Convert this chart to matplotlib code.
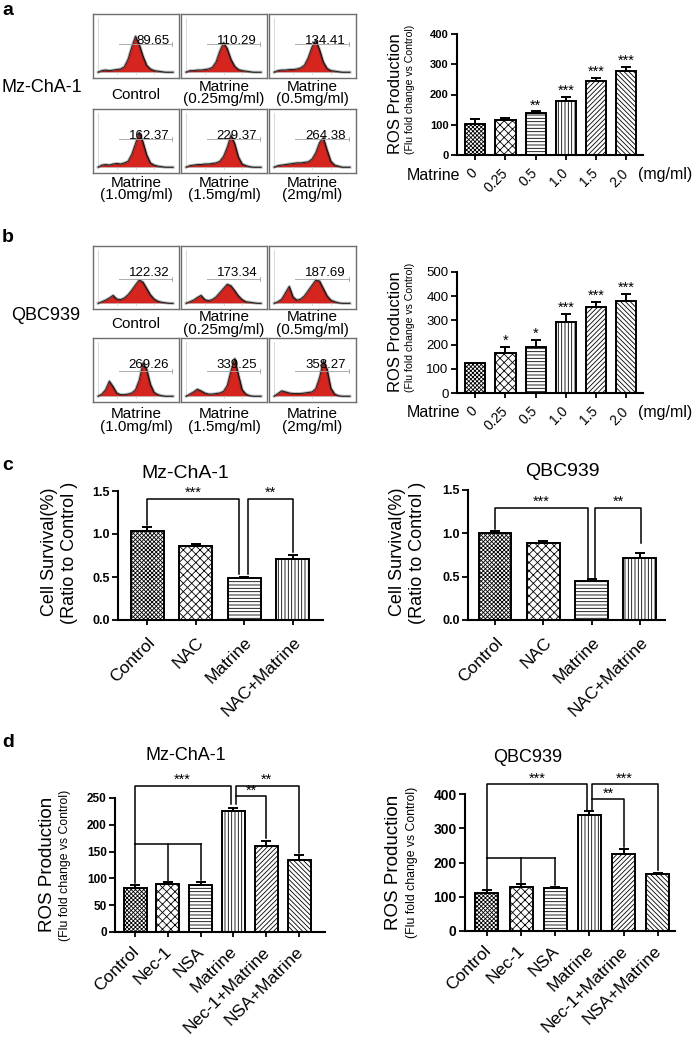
import numpy as np
import matplotlib.pyplot as plt
from matplotlib.transforms import ScaledTranslation

plt.rcParams['font.family'] = ['Liberation Sans', 'DejaVu Sans']
plt.rcParams['hatch.linewidth'] = 0.6

# ---- flow cytometry histograms (relative counts on a 0..1 intensity grid)
hist_x = [0.00, 0.05, 0.10, 0.15, 0.20, 0.25, 0.30, 0.35, 0.40, 0.45, 0.50,
          0.55, 0.60, 0.65, 0.70, 0.75, 0.80, 0.85, 0.90, 0.95, 1.00]

hist_a_labels = [('Control',), ('Matrine', '(0.25mg/ml)'), ('Matrine', '(0.5mg/ml)'),
                 ('Matrine', '(1.0mg/ml)'), ('Matrine', '(1.5mg/ml)'), ('Matrine', '(2mg/ml)')]
hist_a_values = ['89.65', '110.29', '134.41', '162.37', '229.37', '264.38']
hist_a_counts = [
    [0, .03, .04, .03, .04, .05, .06, .10, .24, .47, .67, .52, .30, .13, .06, .03, .02, .01, 0, 0, 0],
    [0, .03, .03, .04, .04, .05, .06, .09, .19, .39, .55, .44, .24, .11, .05, .03, .02, .01, 0, 0, 0],
    [0, .03, .04, .04, .05, .05, .06, .08, .13, .27, .47, .60, .42, .19, .07, .03, .02, .01, 0, 0, 0],
    [0, .04, .05, .04, .06, .07, .06, .08, .11, .24, .44, .65, .47, .23, .08, .04, .02, .01, 0, 0, 0],
    [0, .03, .04, .05, .05, .06, .06, .07, .08, .11, .20, .37, .60, .44, .19, .06, .03, .01, 0, 0, 0],
    [0, .03, .04, .05, .06, .07, .08, .08, .09, .10, .15, .27, .46, .55, .32, .11, .04, .02, 0, 0, 0],
]

hist_b_labels = hist_a_labels
hist_b_values = ['122.32', '173.34', '187.69', '269.26', '339.25', '358.27']
hist_b_counts = [
    [0, .03, .06, .10, .15, .08, .07, .10, .16, .25, .35, .44, .40, .28, .16, .08, .04, .02, .01, 0, 0],
    [0, .03, .06, .11, .15, .07, .05, .07, .12, .20, .28, .36, .33, .24, .14, .07, .03, .02, .01, 0, 0],
    [0, .03, .08, .20, .32, .12, .06, .08, .14, .24, .34, .44, .42, .28, .14, .06, .03, .01, 0, 0, 0],
    [0, .04, .12, .28, .18, .06, .03, .03, .04, .06, .12, .30, .62, .50, .22, .07, .03, .01, 0, 0, 0],
    [0, .04, .08, .13, .10, .06, .04, .04, .05, .06, .09, .20, .48, .70, .40, .12, .04, .01, 0, 0, 0],
    [0, .05, .10, .08, .06, .05, .05, .05, .06, .07, .08, .14, .35, .66, .50, .15, .04, .01, 0, 0, 0],
]

# ---- ROS bar charts a / b
dose_labels = ['0', '0.25', '0.5', '1.0', '1.5', '2.0']
ros_a_mean = [102, 116, 138, 177, 243, 278]
ros_a_err = [17, 7, 6, 14, 11, 12]
ros_a_stars = ['', '', '**', '***', '***', '***']
ros_b_mean = [122, 166, 191, 295, 357, 382]
ros_b_err = [3, 25, 28, 30, 21, 27]
ros_b_stars = ['', '*', '*', '***', '***', '***']

# ---- cell survival c
surv_groups = ['Control', 'NAC', 'Matrine', 'NAC+Matrine']
surv_mz_mean = [1.036, 0.862, 0.487, 0.711]
surv_mz_err = [0.04, 0.027, 0.013, 0.04]
surv_qbc_mean = [1.0, 0.89, 0.454, 0.72]
surv_qbc_err = [0.03, 0.025, 0.016, 0.057]

# ---- ROS with inhibitors d
inh_groups = ['Control', 'Nec-1', 'NSA', 'Matrine', 'Nec-1+Matrine', 'NSA+Matrine']
inh_mz_mean = [83, 89, 88, 226, 161, 134]
inh_mz_err = [4, 4, 6, 5, 9, 10]
inh_qbc_mean = [111, 129, 125, 340, 224, 166]
inh_qbc_err = [8, 7, 4, 11, 14, 4]

hatch6 = ['xxxxxxxx', 'xxxx', '-----', '|||||', '///////', '\\\\\\\\\\\\\\']
hatch_c = ['xxxxxxxx', 'xxxx', '-----', '|||||']
hatch_d = ['xxxxxxxx', 'xxxx', '-----', '|||||', '///////', '\\\\\\\\\\\\\\']

RED = '#d6251f'
W, H = 697, 1038
fig = plt.figure(figsize=(W / 100, H / 100), dpi=100)


def px_axes(l, t, r, b):
    return fig.add_axes([l / W, 1 - b / H, (r - l) / W, (b - t) / H])


def px_text(x, y, s, **kw):
    fig.text(x / W, 1 - y / H, s, **kw)


def hist_box(l, t, r, b, counts, value, gate):
    ax = px_axes(l, t, r, b)
    ax.set_xlim(0, 1)
    ax.set_ylim(0, 1)
    ax.set_xticks([])
    ax.set_yticks([])
    for s in ax.spines.values():
        s.set_color('#6e6e6e')
        s.set_linewidth(1.0)
    x0, x1, y0, y1 = 0.06, 0.93, 0.09, 0.93
    ax.plot([x0, x0], [y0, y1], color='#c8c8c8', lw=0.5)
    ax.plot([x0, x1], [y0, y0], color='#c8c8c8', lw=0.5)
    for tx in [0.25, 0.5, 0.75]:
        xx = x0 + (x1 - x0) * tx
        ax.plot([xx, xx], [y0, y0 - 0.03], color='#c8c8c8', lw=0.5)
    xs = x0 + (x1 - x0) * np.array(hist_x)
    ys = y0 + (y1 - y0) * np.array(counts)
    ax.fill_between(xs, y0, ys, color=RED, lw=0)
    ax.plot(xs, ys, color='black', lw=2.2, alpha=0.25)
    ax.plot(xs, ys, color='black', lw=0.8, alpha=0.8)
    ax.plot([0.3, 0.92], [gate, gate], color='#a0a0a0', lw=0.6)
    ax.plot([0.92, 0.92], [gate - 0.03, gate + 0.03], color='#a0a0a0', lw=0.6)
    ax.text(0.885, 0.575, value, ha='right', va='center', fontsize=9.5)


box_cols = [(93, 179), (181, 267), (269, 356)]


def hist_block(rows_y, counts, values, labels, label_rows, gate):
    for i in range(6):
        r = i // 3
        l, rr = box_cols[i % 3]
        t, b = rows_y[r]
        hist_box(l, t, rr, b, counts[i], values[i], gate)
        cx = (l + rr) / 2
        lab = labels[i]
        if len(lab) == 1:
            px_text(cx, label_rows[r][2], lab[0], ha='center', va='center', fontsize=11)
        else:
            px_text(cx, label_rows[r][0], lab[0], ha='center', va='center', fontsize=11)
            px_text(cx, label_rows[r][1], lab[1], ha='center', va='center', fontsize=11)


hist_block([(14, 78), (109, 173)], hist_a_counts, hist_a_values, hist_a_labels,
           [(87, 99, 95), (183, 195, 189)], 0.53)
hist_block([(246, 309), (338, 402)], hist_b_counts, hist_b_values, hist_b_labels,
           [(317, 330, 324), (414, 427, 420)], 0.48)

px_text(42, 88, 'Mz-ChA-1', ha='center', va='center', fontsize=13)
px_text(46, 315, 'QBC939', ha='center', va='center', fontsize=13)

for lab, y in [('a', 2), ('b', 229), ('c', 457), ('d', 734)]:
    px_text(2, y, lab, ha='left', va='top', fontsize=14, fontweight='bold')


def bar_panel(ax, means, errs, hatches, width, ylim, yticks, yfmt, ybold, ysize):
    x = np.arange(len(means))
    bars = ax.bar(x, means, width, color='white', edgecolor='black', linewidth=1.4, zorder=2)
    for p, h in zip(bars, hatches):
        p.set_hatch(h)
    ax.errorbar(x, means, yerr=[np.zeros(len(errs)), errs], fmt='none', ecolor='black',
                elinewidth=1.4, capsize=3.5, capthick=1.4, zorder=3)
    ax.set_ylim(*ylim)
    ax.set_yticks(yticks)
    ax.set_yticklabels([yfmt.format(v) for v in yticks], fontsize=ysize,
                       fontweight='bold' if ybold else 'normal')
    ax.set_xticks(x)
    for side in ['top', 'right']:
        ax.spines[side].set_visible(False)
    for side in ['left', 'bottom']:
        ax.spines[side].set_linewidth(1.5)
    ax.tick_params(axis='y', length=4, width=1.3, pad=2)
    ax.tick_params(axis='x', length=3.5, width=1.3)
    return x


def rot_labels(ax, labels, size, pad, dx):
    ax.tick_params(axis='x', pad=pad)
    tl = ax.set_xticklabels(labels, rotation=45, ha='right', va='center',
                            rotation_mode='anchor', fontsize=size)
    off = ScaledTranslation(dx / 72, 0, fig.dpi_scale_trans)
    for t in tl:
        t.set_transform(t.get_transform() + off)


def stars(ax, x, y, s):
    ax.annotate(s, (x, y), xytext=(0, 1.5), textcoords='offset points', ha='center',
                va='baseline', fontsize=10.5, annotation_clip=False)


def bracket(ax, xs, ys):
    ax.plot(xs, ys, color='black', lw=1.1, clip_on=False, zorder=4)


# ---- a / b right bar charts
for (t, b), means, errs, st, ylim, yt, ybold, ysize, ylab_y in [
        ((34, 155), ros_a_mean, ros_a_err, ros_a_stars, (0, 400), [0, 100, 200, 300, 400], True, 8, 175),
        ((272, 393), ros_b_mean, ros_b_err, ros_b_stars, (0, 500), [0, 100, 200, 300, 400, 500], False, 9.5, 412)]:
    ax = px_axes(457, t, 643, b)
    x = bar_panel(ax, means, errs, hatch6, 0.67, ylim, yt, '{:d}', ybold, ysize)
    ax.set_xlim(-0.6, 5.55)
    rot_labels(ax, dose_labels, 10, 8, 0)
    for xi, m, e, s in zip(x, means, errs, st):
        if s:
            stars(ax, xi, m + e, s)
    px_text(433, ylab_y, 'Matrine', ha='center', va='center', fontsize=11.5)
    px_text(665, ylab_y, '(mg/ml)', ha='center', va='center', fontsize=11.5)
    px_text(395, (t + b) / 2 - 1, 'ROS Production', rotation=90, ha='center', va='center', fontsize=12)
    px_text(410, (t + b) / 2 - 5, '(Flu fold change vs Control)', rotation=90, ha='center',
            va='center', fontsize=7.6)

# ---- c cell survival
ax = px_axes(118, 491, 323, 620)
bar_panel(ax, surv_mz_mean, surv_mz_err, hatch_c, 0.68, (0, 1.5), [0, 0.5, 1.0, 1.5], '{:.1f}', True, 9)
ax.set_xlim(-0.6, 3.62)
rot_labels(ax, surv_groups, 12.5, 11, 4)
bracket(ax, [0, 0, 1.9, 1.9], [1.1, 1.41, 1.41, 0.53])
bracket(ax, [2.07, 2.07, 3, 3], [0.53, 1.41, 1.41, 0.79])
stars(ax, 0.95, 1.41, '***')
stars(ax, 2.53, 1.41, '**')
px_text(185, 473, 'Mz-ChA-1', ha='center', va='center', fontsize=14)
px_text(50, 552, 'Cell Survival(%)', rotation=90, ha='center', va='center', fontsize=13)
px_text(70, 553, '(Ratio to Control )', rotation=90, ha='center', va='center', fontsize=13)

ax = px_axes(468, 490, 665, 620)
bar_panel(ax, surv_qbc_mean, surv_qbc_err, hatch_c, 0.68, (0, 1.5), [0, 0.5, 1.0, 1.5], '{:.1f}', True, 9)
ax.set_xlim(-0.56, 3.52)
rot_labels(ax, surv_groups, 12.5, 11, 4)
bracket(ax, [0, 0, 1.93, 1.93], [1.05, 1.296, 1.296, 0.48])
bracket(ax, [2.08, 2.08, 3.03, 3.03], [0.48, 1.296, 1.296, 0.885])
stars(ax, 0.95, 1.296, '***')
stars(ax, 2.55, 1.296, '**')
px_text(562, 472, 'QBC939', ha='center', va='center', fontsize=14)
px_text(397, 552, 'Cell Survival(%)', rotation=90, ha='center', va='center', fontsize=13)
px_text(417, 553, '(Ratio to Control )', rotation=90, ha='center', va='center', fontsize=13)

# ---- d ROS with inhibitors
ax = px_axes(115, 798, 325, 932)
bar_panel(ax, inh_mz_mean, inh_mz_err, hatch_d, 0.7, (0, 250), [0, 50, 100, 150, 200, 250], '{:d}', True, 8.5)
ax.set_xlim(-0.61, 5.79)
rot_labels(ax, inh_groups, 12.5, 9, 1)
low = 164
for xi, top in zip([0, 1, 2], [91, 94, 97]):
    bracket(ax, [xi, xi], [top, low])
bracket(ax, [0, 2], [low, low])
bracket(ax, [0, 0, 2.93, 2.93], [low, 272, 272, 238])
bracket(ax, [3.07, 3.07, 5, 5], [238, 272, 272, 147])
bracket(ax, [3.07, 4, 4], [253, 253, 175])
stars(ax, 1.43, 272, '***')
stars(ax, 3.56, 253, '**')
stars(ax, 4.0, 272, '**')
px_text(186, 755, 'Mz-ChA-1', ha='center', va='center', fontsize=13)
px_text(47, 864, 'ROS Production', rotation=90, ha='center', va='center', fontsize=13.5)
px_text(65, 865, '(Flu fold change vs Control)', rotation=90, ha='center', va='center', fontsize=8.8)

ax = px_axes(465, 794, 675, 931)
bar_panel(ax, inh_qbc_mean, inh_qbc_err, hatch_d, 0.67, (0, 400), [0, 100, 200, 300, 400], '{:d}', True, 10)
ax.set_xlim(-0.64, 5.5)
rot_labels(ax, inh_groups, 12.5, 9, 1)
low = 212
for xi, top in zip([0, 1, 2], [124, 140, 133]):
    bracket(ax, [xi, xi], [top, low])
bracket(ax, [0, 2], [low, low])
bracket(ax, [0, 0, 2.92, 2.92], [low, 428, 428, 353])
bracket(ax, [3.08, 3.08, 5, 5], [353, 428, 428, 178])
bracket(ax, [3.08, 4, 4], [384, 384, 246])
stars(ax, 1.46, 428, '***')
stars(ax, 3.56, 384, '**')
stars(ax, 4.03, 428, '***')
px_text(528, 757, 'QBC939', ha='center', va='center', fontsize=13)
px_text(393, 862, 'ROS Production', rotation=90, ha='center', va='center', fontsize=13.5)
px_text(412, 862, '(Flu fold change vs Control)', rotation=90, ha='center', va='center', fontsize=8.8)

fig.savefig('out.png', dpi=100)
